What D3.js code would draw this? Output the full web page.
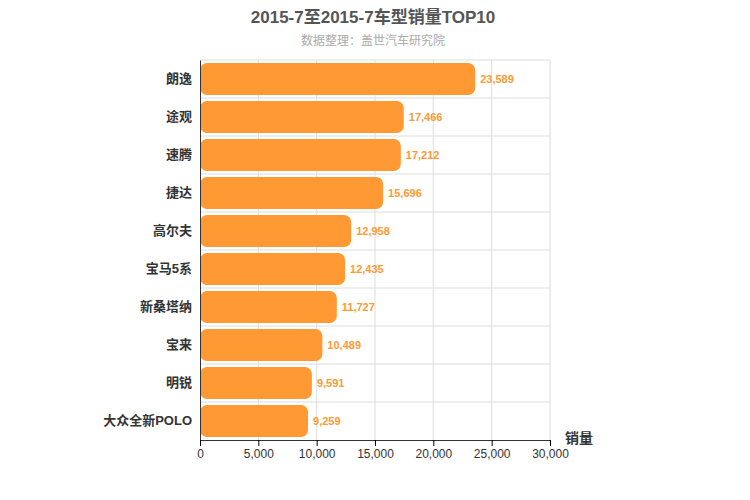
<!DOCTYPE html>
<html><head><meta charset="utf-8">
<script src="https://cdn.jsdelivr.net/npm/d3@7"></script>
<style>body{margin:0;background:#fff;font-family:"Liberation Sans","Noto Sans CJK SC",sans-serif}</style>
</head><body><div id="chart"></div>
<script>
const categories = ["朗逸","途观","速腾","捷达","高尔夫","宝马5系","新桑塔纳","宝来","明锐","大众全新POLO"];
const sales = [23589,17466,17212,15696,12958,12435,11727,10489,9591,9259];
const xTicks = [0,5000,10000,15000,20000,25000,30000];

const w = 750, h = 500;
const plotLeft = 200, plotRight = 550, plotTop = 60, plotBottom = 440;
const orange = "#ff9933";
const font = '"Liberation Sans","Noto Sans CJK SC",sans-serif';

const svg = d3.select("#chart").append("svg").attr("width", w).attr("height", h)
    .attr("font-family", font);

const x = d3.scaleLinear().domain([0, 30000]).range([plotLeft, plotRight]);
const y = d3.scaleBand().domain(categories).range([plotTop, plotBottom]).paddingInner(0.16).paddingOuter(0.08);

// grid
svg.append("g").selectAll("line").data(xTicks.slice(1)).enter().append("line")
    .attr("x1", d => x(d)).attr("x2", d => x(d)).attr("y1", plotTop).attr("y2", plotBottom)
    .attr("stroke", "#ddd");
const step = (plotBottom - plotTop) / categories.length;
svg.append("g").selectAll("line").data(d3.range(categories.length)).enter().append("line")
    .attr("x1", plotLeft).attr("x2", plotRight).attr("y1", d => plotTop + d * step).attr("y2", d => plotTop + d * step)
    .attr("stroke", "#ddd");

// bars
svg.append("g").selectAll("rect").data(categories).enter().append("rect")
    .attr("x", x(0)).attr("y", d => y(d))
    .attr("width", (d, i) => x(sales[i]) - x(0))
    .attr("height", y.bandwidth())
    .attr("rx", 7).attr("fill", orange);

svg.append("g").selectAll("text").data(categories).enter().append("text")
    .attr("x", (d, i) => x(sales[i]) + 5).attr("y", d => y(d) + y.bandwidth() / 2 + 4)
    .attr("font-size", 11).attr("font-weight", "bold").attr("fill", orange)
    .text((d, i) => d3.format(",")(sales[i]));

// axes
const xAxis = svg.append("g").attr("transform", `translate(0,${plotBottom})`)
    .call(d3.axisBottom(x).tickValues(xTicks).tickFormat(d3.format(",")).tickSizeOuter(0));
xAxis.selectAll("text").attr("font-size", 12).attr("fill", "#333").attr("font-family", font);
xAxis.select(".domain").attr("stroke", "#333");

const yAxis = svg.append("g").attr("transform", `translate(${plotLeft},0)`)
    .call(d3.axisLeft(y).tickSize(0).tickPadding(8));
yAxis.selectAll("text").attr("font-size", 13).attr("font-weight", "bold").attr("fill", "#333").attr("font-family", font);
yAxis.select(".domain").attr("stroke", "#333");

svg.append("text").attr("x", 565).attr("y", 443).attr("font-size", 14).attr("font-weight", "bold")
    .attr("fill", "#333").text("销量");

svg.append("text").attr("x", w / 2 - 2).attr("y", 23).attr("text-anchor", "middle")
    .attr("font-size", 17).attr("font-weight", "bold").attr("fill", "#555").text("2015-7至2015-7车型销量TOP10");
svg.append("text").attr("x", w / 2 - 2).attr("y", 45).attr("text-anchor", "middle")
    .attr("font-size", 12).attr("fill", "#aaa").text("数据整理：盖世汽车研究院");
</script></body></html>
